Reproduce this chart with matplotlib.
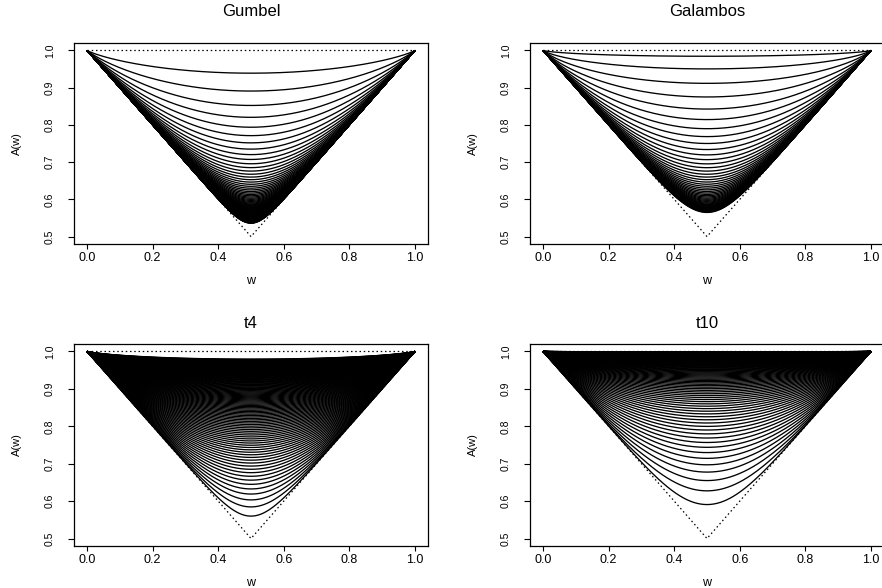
import numpy as np
import matplotlib
matplotlib.use("Agg")
import matplotlib.pyplot as plt

# ---- parameters of the dependence-function families ----
panel_titles = ["Gumbel", "Galambos", "t4", "t10"]

gumbel_theta = [
    1.1, 1.2, 1.3, 1.4, 1.5, 1.6, 1.7, 1.8, 1.9, 2.0,
    2.1, 2.2, 2.3, 2.4, 2.5, 2.6, 2.7, 2.8, 2.9, 3.0,
    3.1, 3.2, 3.3, 3.4, 3.5, 3.6, 3.7, 3.8, 3.9, 4.0,
    4.1, 4.2, 4.3, 4.4, 4.5, 4.6, 4.7, 4.8, 4.9, 5.0,
    5.1, 5.2, 5.3, 5.4, 5.5, 5.6, 5.7, 5.8, 5.9, 6.0,
    6.1, 6.2, 6.3, 6.4, 6.5, 6.6, 6.7, 6.8, 6.9, 7.0,
    7.1, 7.2, 7.3, 7.4, 7.5, 7.6, 7.7, 7.8, 7.9, 8.0,
    8.1, 8.2, 8.3, 8.4, 8.5, 8.6, 8.7, 8.8, 8.9, 9.0,
    9.1, 9.2, 9.3, 9.4, 9.5, 9.6, 9.7, 9.8, 9.9, 10.0,
]

galambos_delta = [
    0.2, 0.3, 0.4, 0.5, 0.6, 0.7, 0.8, 0.9, 1.0,
    1.1, 1.2, 1.3, 1.4, 1.5, 1.6, 1.7, 1.8, 1.9, 2.0,
    2.1, 2.2, 2.3, 2.4, 2.5, 2.6, 2.7, 2.8, 2.9, 3.0,
    3.1, 3.2, 3.3, 3.4, 3.5, 3.6, 3.7, 3.8, 3.9, 4.0,
    4.1, 4.2, 4.3, 4.4, 4.5, 4.6, 4.7, 4.8, 4.9, 5.0,
]

t_rho = [
    -0.20, -0.19, -0.18, -0.17, -0.16, -0.15, -0.14, -0.13, -0.12, -0.11,
    -0.10, -0.09, -0.08, -0.07, -0.06, -0.05, -0.04, -0.03, -0.02, -0.01,
    0.00, 0.01, 0.02, 0.03, 0.04, 0.05, 0.06, 0.07, 0.08, 0.09,
    0.10, 0.11, 0.12, 0.13, 0.14, 0.15, 0.16, 0.17, 0.18, 0.19,
    0.20, 0.21, 0.22, 0.23, 0.24, 0.25, 0.26, 0.27, 0.28, 0.29,
    0.30, 0.31, 0.32, 0.33, 0.34, 0.35, 0.36, 0.37, 0.38, 0.39,
    0.40, 0.41, 0.42, 0.43, 0.44, 0.45, 0.46, 0.47, 0.48, 0.49,
    0.50, 0.51, 0.52, 0.53, 0.54, 0.55, 0.56, 0.57, 0.58, 0.59,
    0.60, 0.61, 0.62, 0.63, 0.64, 0.65, 0.66, 0.67, 0.68, 0.69,
    0.70, 0.71, 0.72, 0.73, 0.74, 0.75, 0.76, 0.77, 0.78, 0.79,
    0.80, 0.81, 0.82, 0.83, 0.84, 0.85, 0.86, 0.87, 0.88, 0.89,
    0.90, 0.91, 0.92, 0.93, 0.94, 0.95, 0.96, 0.97, 0.98, 0.99,
]
t_df = [4, 10]

x_ticks = [0.0, 0.2, 0.4, 0.6, 0.8, 1.0]
y_ticks = [0.5, 0.6, 0.7, 0.8, 0.9, 1.0]

# ---- dependence functions ----
w = np.linspace(0.0, 1.0, 501)


def pickands_gumbel(w, th):
    return (w ** th + (1 - w) ** th) ** (1.0 / th)


def pickands_galambos(w, d):
    with np.errstate(divide="ignore", over="ignore"):
        return 1.0 - (w ** (-d) + (1 - w) ** (-d)) ** (-1.0 / d)


def t_cdf_odd(x, nu):
    th = np.arctan(x / np.sqrt(nu))
    c = np.cos(th)
    s = np.sin(th)
    term = c.copy()
    total = c.copy()
    for k in range(1, (nu - 3) // 2 + 1):
        term = term * c * c * (2 * k) / (2 * k + 1)
        total = total + term
    return 0.5 + 0.5 * (2.0 / np.pi) * (th + s * total)


def pickands_t(w, rho, nu):
    k = np.sqrt((nu + 1) / (1 - rho ** 2))
    with np.errstate(divide="ignore", over="ignore", invalid="ignore"):
        z1 = k * ((w / (1 - w)) ** (1.0 / nu) - rho)
        z2 = k * (((1 - w) / w) ** (1.0 / nu) - rho)
    return w * t_cdf_odd(z1, nu + 1) + (1 - w) * t_cdf_odd(z2, nu + 1)


curves = [
    [pickands_gumbel(w, th) for th in gumbel_theta],
    [pickands_galambos(w, d) for d in galambos_delta],
    [pickands_t(w, r, t_df[0]) for r in t_rho],
    [pickands_t(w, r, t_df[1]) for r in t_rho],
]

# ---- figure ----
plt.rcParams["font.family"] = ["Liberation Sans", "DejaVu Sans"]
fig = plt.figure(figsize=(8.82, 5.88), dpi=100)
W, H = 882.0, 588.0
# pixel boxes: (left, top, width, height)
boxes = [(74, 43, 354, 201), (530, 43, 354, 201),
         (74, 344, 354, 202), (530, 344, 354, 202)]
title_dy = [31, 31, 20, 20]

for i, (l, t, bw, bh) in enumerate(boxes):
    ax = fig.add_axes([l / W, 1 - (t + bh) / H, bw / W, bh / H])
    for A in curves[i]:
        ax.plot(w, A, color="black", lw=0.95, solid_capstyle="butt")
    ax.plot([0, 1], [1, 1], color="black", lw=0.9, ls=(0, (1.2, 2.2)))
    ax.plot([0, 0.5, 1], [1, 0.5, 1], color="black", lw=0.9, ls=(0, (1.2, 2.2)))
    ax.set_xlim(-0.04, 1.04)
    ax.set_ylim(0.48, 1.02)
    ax.set_xticks(x_ticks)
    ax.set_xticklabels([f"{v:.1f}" for v in x_ticks])
    ax.set_yticks(y_ticks)
    ax.set_yticklabels([f"{v:.1f}" for v in y_ticks], rotation=90, va="center")
    ax.tick_params(axis="x", direction="out", length=3.6, width=0.8,
                   labelsize=9, pad=2.5)
    ax.tick_params(axis="y", direction="out", length=4.3, width=0.8,
                   labelsize=7.5, pad=9.5)
    for sp in ax.spines.values():
        sp.set_linewidth(0.9)
    ax.set_xlabel("w", fontsize=9)
    ax.xaxis.label.set_va("center")
    ax.xaxis.set_label_coords(0.5, -36.5 / bh)
    ax.set_ylabel("A(w)", fontsize=8)
    ax.yaxis.label.set_va("center")
    ax.yaxis.set_label_coords(-57.0 / bw, 0.5)
    ax.text(0.5, 1 + title_dy[i] / bh, panel_titles[i], transform=ax.transAxes,
            ha="center", va="center", fontsize=12)

fig.savefig("out.png", dpi=100)
